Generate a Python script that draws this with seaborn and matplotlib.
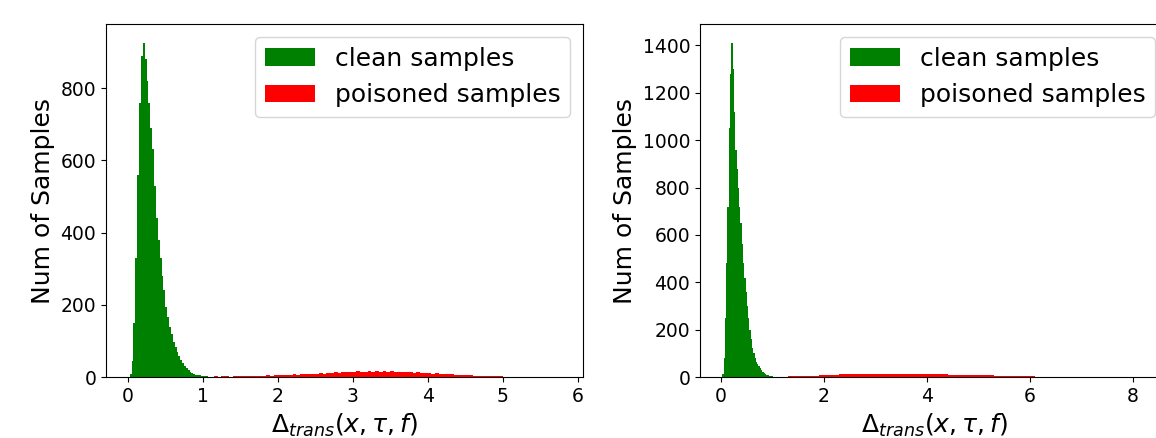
import numpy as np
import pandas as pd
import matplotlib
matplotlib.use("Agg")
import matplotlib.pyplot as plt
import seaborn as sns

# ---------------- data ----------------
# Left panel: clean samples, bins of width 0.025 starting at 0.0
clean_left_start, clean_left_width = 0.0, 0.025
clean_left_counts = [0, 8, 45, 150, 330, 560, 760, 890, 925, 880,
                     820, 760, 690, 630, 530, 440, 380, 330, 280, 240,
                     195, 165, 140, 118, 98, 82, 70, 58, 46, 38,
                     31, 25, 19, 15, 12, 9, 7, 6, 5, 4,
                     3, 2, 2, 1, 1, 1, 1, 1]
# Left panel: poisoned samples, bins of width 0.05 starting at 1.0
poison_left_start, poison_left_width = 1.0, 0.05
poison_left_counts = [1, 1, 1, 2, 1, 2, 2, 1, 2, 2,
                      3, 2, 3, 3, 4, 3, 4, 5, 4, 5,
                      6, 5, 7, 6, 8, 7, 8, 9, 8, 10,
                      9, 11, 10, 12, 11, 13, 12, 14, 13, 15,
                      14, 16, 13, 15, 17, 14, 16, 15, 17, 14,
                      16, 15, 14, 15, 13, 14, 12, 13, 11, 12,
                      11, 10, 11, 9, 9, 8, 8, 7, 6, 7,
                      5, 5, 4, 4, 3, 3, 3, 2, 2, 2,
                      1, 1, 1, 1, 1, 0, 1, 0, 0, 1,
                      0, 0, 0, 0, 0, 0]

# Right panel: clean samples, bins of width 0.025 starting at 0.0
clean_right_start, clean_right_width = 0.0, 0.025
clean_right_counts = [0, 15, 80, 250, 480, 720, 1050, 1280, 1410, 1300,
                      1120, 960, 880, 800, 720, 650, 560, 480, 420, 360,
                      300, 250, 200, 160, 125, 100, 80, 65, 55, 48,
                      40, 32, 23, 17, 12, 9, 7, 5, 4, 3,
                      2, 2, 1, 1, 1, 1, 0, 0]
# Right panel: poisoned samples, bins of width 0.1 starting at 1.0
poison_right_start, poison_right_width = 1.0, 0.1
poison_right_counts = [1, 2, 2, 3, 3, 4, 5, 5, 6, 7,
                       8, 9, 10, 12, 13, 14, 13, 14, 13, 14,
                       14, 13, 14, 15, 14, 13, 14, 15, 14, 13,
                       13, 12, 13, 12, 11, 11, 10, 10, 9, 9,
                       8, 7, 7, 6, 6, 5, 4, 4, 3, 3,
                       3, 2, 2, 2, 1, 1, 1, 1, 1, 1,
                       1, 0, 0, 0, 1, 0, 0, 0, 0, 0,
                       0, 0, 0]

legend_labels = ["clean samples", "poisoned samples"]
x_label = r"$\Delta_{trans}(x, \tau, f)$"
y_label = "Num of Samples"


def draw_hist(ax, start, width, counts, color, label):
    counts = np.asarray(counts, dtype=float)
    edges = start + width * np.arange(len(counts) + 1)
    centers = (edges[:-1] + edges[1:]) / 2
    df = pd.DataFrame({"value": centers, "count": counts})
    sns.histplot(data=df, x="value", weights="count", bins=edges.tolist(), ax=ax,
                 element="step", fill=True,
                 color=color, alpha=1.0, linewidth=0, edgecolor="none",
                 stat="count", label=label)


fig = plt.figure(figsize=(11.56, 4.38), dpi=100)
ax1 = fig.add_axes([0.0917, 0.139, 0.4126, 0.806])
ax2 = fig.add_axes([0.6055, 0.139, 0.4048, 0.806])

draw_hist(ax1, clean_left_start, clean_left_width, clean_left_counts, "green", legend_labels[0])
draw_hist(ax1, poison_left_start, poison_left_width, poison_left_counts, "red", legend_labels[1])
draw_hist(ax2, clean_right_start, clean_right_width, clean_right_counts, "green", legend_labels[0])
draw_hist(ax2, poison_right_start, poison_right_width, poison_right_counts, "red", legend_labels[1])

ax1.set_xlim(-0.29, 6.07)
ax1.set_ylim(0, 977)
ax2.set_xlim(-0.41, 8.68)
ax2.set_ylim(0, 1490)
ax2.set_xticks([0, 2, 4, 6, 8])

for ax in (ax1, ax2):
    ax.set_xlabel(x_label, fontsize=18)
    ax.set_ylabel(y_label, fontsize=18)
    ax.tick_params(labelsize=13.5)
    ax.legend(loc="upper right", fontsize=18)

fig.savefig("out.png", dpi=100)
